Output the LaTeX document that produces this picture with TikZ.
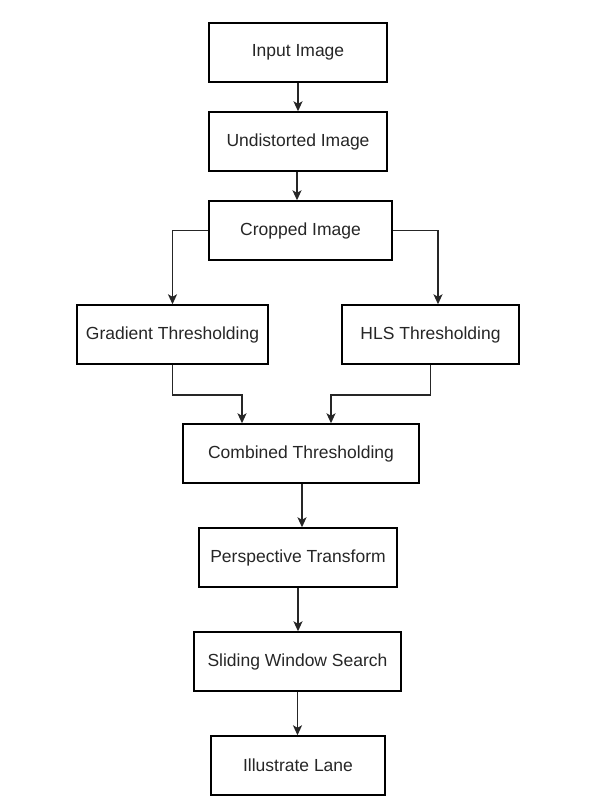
\documentclass[tikz,border=0pt]{standalone}
\usepackage{fontspec}
\setmainfont{Liberation Sans}
\usetikzlibrary{arrows.meta}
\begin{document}
\begin{tikzpicture}[x=1pt,y=-1pt,
  box/.style={draw=black,line width=1.4pt,minimum height=59pt,inner sep=0pt,font=\fontsize{17.5}{20}\selectfont,text=black!85},
  conn/.style={draw=black!85,line width=1.6pt,-{Stealth[length=10pt,width=9pt,inset=2.5pt]}}]
\useasboundingbox (0,0) rectangle (597,801);
\node[box,minimum width=178pt] (in) at (298,52.5) {Input Image};
\node[box,minimum width=178pt] (un) at (298,141.5) {Undistorted Image};
\node[box,minimum width=183pt] (cr) at (300.5,230.5) {Cropped Image};
\node[box,minimum width=191pt] (gr) at (172.5,334.5) {Gradient Thresholding};
\node[box,minimum width=177pt] (hl) at (430.5,334.5) {HLS Thresholding};
\node[box,minimum width=236pt] (cb) at (301,453.5) {Combined Thresholding};
\node[box,minimum width=198pt] (pe) at (298,557.5) {Perspective Transform};
\node[box,minimum width=207pt] (sl) at (297.5,661.5) {Sliding Window Search};
\node[box,minimum width=174pt] (il) at (298,765.5) {Illustrate Lane};
\draw[conn] (in.south) -- (in.south |- un.north);
\draw[conn] ([xshift=-1pt]un.south) -- ([xshift=-1pt]un.south |- cr.north);
\draw[conn] (cr.west) -| (gr.north);
\draw[conn] (cr.east) -| ([xshift=7.5pt]hl.north);
\draw[conn] (gr.south) -- ++(0,30) -| ([xshift=-59pt]cb.north);
\draw[conn] (hl.south) -- ++(0,30) -| ([xshift=30pt]cb.north);
\draw[conn] ([xshift=1pt]cb.south) -- ([xshift=1pt]cb.south |- pe.north);
\draw[conn] (pe.south) -- (pe.south |- sl.north);
\draw[conn] (sl.south) -- (sl.south |- il.north);
\end{tikzpicture}
\end{document}
